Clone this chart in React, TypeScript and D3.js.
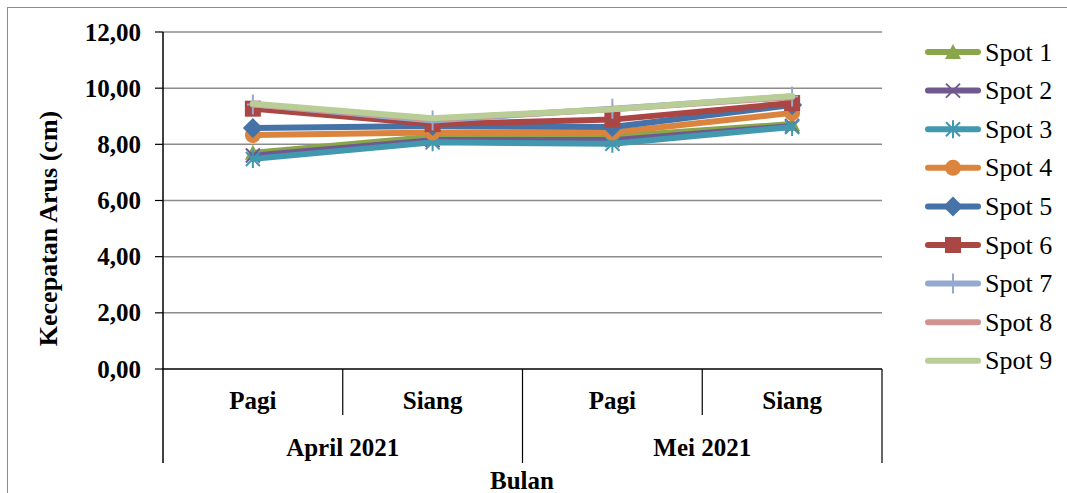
import React from "react";
import * as d3 from "d3";

const categories = ["Pagi", "Siang", "Pagi", "Siang"];
const groups = ["April 2021", "Mei 2021"];
const seriesNames = ["Spot 1", "Spot 2", "Spot 3", "Spot 4", "Spot 5", "Spot 6", "Spot 7", "Spot 8", "Spot 9"];
const spot1 = [7.7, 8.27, 8.28, 8.72];
const spot2 = [7.6, 8.15, 8.15, 8.65];
const spot3 = [7.48, 8.07, 8.02, 8.62];
const spot4 = [8.33, 8.42, 8.42, 9.12];
const spot5 = [8.58, 8.65, 8.62, 9.4];
const spot6 = [9.27, 8.72, 8.88, 9.47];
const spot7 = [9.42, 8.85, 9.27, 9.7];
const spot8 = [9.42, 8.9, 9.25, 9.68];
const spot9 = [9.45, 8.93, 9.25, 9.72];
const yTicks = [0, 2, 4, 6, 8, 10, 12];

const seriesValues = [spot1, spot2, spot3, spot4, spot5, spot6, spot7, spot8, spot9];
const colors = ["#8AA64A", "#71588F", "#4198AF", "#DB843D", "#4572A7", "#AA4643", "#93A9CF", "#D19392", "#B9CD96"];
const markers = ["triangle", "x", "star", "circle", "diamond", "square", "plus", "none", "none"];

const FONT = "Liberation Serif, Times New Roman, serif";
const FS = 25;

function Marker({ type, x, y, color }: { type: string; x: number; y: number; color: string }) {
  switch (type) {
    case "triangle":
      return <path d={`M${x},${y - 8} L${x + 8},${y + 7} L${x - 8},${y + 7} Z`} fill={color} />;
    case "x":
      return (
        <path d={`M${x - 7},${y - 7} L${x + 7},${y + 7} M${x - 7},${y + 7} L${x + 7},${y - 7}`} stroke={color} strokeWidth={2} />
      );
    case "star":
      return (
        <path
          d={`M${x - 7},${y - 7} L${x + 7},${y + 7} M${x - 7},${y + 7} L${x + 7},${y - 7} M${x},${y - 9} L${x},${y + 9}`}
          stroke={color}
          strokeWidth={2}
        />
      );
    case "circle":
      return <circle cx={x} cy={y} r={8} fill={color} />;
    case "diamond":
      return <path d={`M${x},${y - 10} L${x + 10},${y} L${x},${y + 10} L${x - 10},${y} Z`} fill={color} />;
    case "square":
      return <rect x={x - 8} y={y - 8} width={16} height={16} fill={color} />;
    case "plus":
      return (
        <path d={`M${x},${y - 10} L${x},${y + 10} M${x - 6},${y} L${x + 6},${y}`} stroke={color} strokeWidth={2} />
      );
    default:
      return null;
  }
}

export default function App() {
  const width = 1067;
  const height = 493;
  const left = 163;
  const right = 882;
  const top = 32;
  const bottom = 369;

  const x = d3.scaleBand<number>().domain(d3.range(categories.length)).range([left, right]);
  const y = d3.scaleLinear().domain([0, 12]).range([bottom, top]);
  const line = d3
    .line<number>()
    .x((_, i) => (x(i) as number) + x.bandwidth() / 2)
    .y((d) => y(d));

  const bw = x.bandwidth();

  return (
    <svg width={width} height={height} style={{ position: "absolute", left: 0, top: 0 }}>
      <rect x={0} y={0} width={width} height={height} fill="#fff" />
      <rect x={7.5} y={7.5} width={1070} height={500} fill="none" stroke="#8c8c8c" strokeWidth={1} />
      {yTicks.map((t) => (
        <g key={t}>
          {t > 0 && <line x1={left} x2={right} y1={y(t)} y2={y(t)} stroke="#8c8c8c" strokeWidth={1.5} />}
          <line x1={left - 8} x2={left} y1={y(t)} y2={y(t)} stroke="#000" strokeWidth={1.2} />
          <text
            x={141}
            y={y(t)}
            textAnchor="end"
            dominantBaseline="central"
            fontFamily={FONT}
            fontWeight="bold"
            fontSize={FS}
          >
            {t.toFixed(2).replace(".", ",")}
          </text>
        </g>
      ))}
      <line x1={left} x2={left} y1={top} y2={463} stroke="#000" strokeWidth={1.5} />
      <line x1={left} x2={right} y1={bottom} y2={bottom} stroke="#000" strokeWidth={1.5} />
      {d3.range(1, categories.length + 1).map((i) => {
        const xx = left + i * bw;
        const long = i % 2 === 0;
        return <line key={i} x1={xx} x2={xx} y1={bottom} y2={long ? 463 : 415} stroke="#000" strokeWidth={1.2} />;
      })}
      {categories.map((c, i) => (
        <text
          key={i}
          x={(x(i) as number) + bw / 2}
          y={400}
          textAnchor="middle"
          dominantBaseline="central"
          fontFamily={FONT}
          fontWeight="bold"
          fontSize={FS}
        >
          {c}
        </text>
      ))}
      {groups.map((g, i) => (
        <text
          key={g}
          x={left + bw * (2 * i + 1)}
          y={447}
          textAnchor="middle"
          dominantBaseline="central"
          fontFamily={FONT}
          fontWeight="bold"
          fontSize={FS}
        >
          {g}
        </text>
      ))}
      <text x={522} y={480} textAnchor="middle" dominantBaseline="central" fontFamily={FONT} fontWeight="bold" fontSize={FS}>
        Bulan
      </text>
      <text
        transform={`translate(48,${(top + bottom) / 2 + 28}) rotate(-90)`}
        textAnchor="middle"
        dominantBaseline="central"
        fontFamily={FONT}
        fontWeight="bold"
        fontSize={26}
      >
        Kecepatan Arus (cm)
      </text>
      {seriesValues.map((vals, si) => (
        <g key={si}>
          <path d={line(vals) || ""} fill="none" stroke={colors[si]} strokeWidth={6} strokeLinejoin="round" strokeLinecap="round" />
          {vals.map((v, i) => (
            <Marker key={i} type={markers[si]} x={(x(i) as number) + bw / 2} y={y(v)} color={colors[si]} />
          ))}
        </g>
      ))}
      {seriesNames.map((n, i) => {
        const ly = 52 + i * 38.6;
        return (
          <g key={n}>
            <line x1={928} x2={978} y1={ly} y2={ly} stroke={colors[i]} strokeWidth={6} strokeLinecap="round" />
            <Marker type={markers[i]} x={953} y={ly} color={colors[i]} />
            <text x={985} y={ly} dominantBaseline="central" fontFamily={FONT} fontSize={26}>
              {n}
            </text>
          </g>
        );
      })}
    </svg>
  );
}
